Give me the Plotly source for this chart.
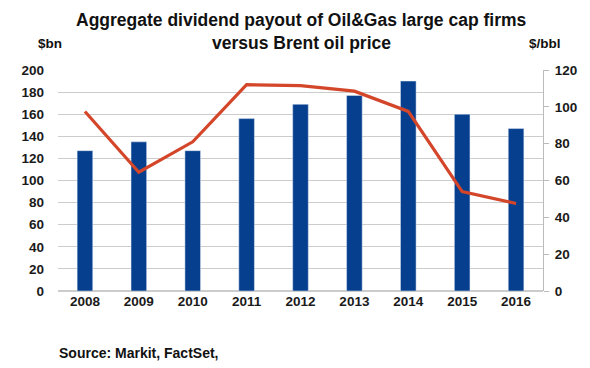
import plotly.graph_objects as go

years = ["2008", "2009", "2010", "2011", "2012", "2013", "2014", "2015", "2016"]
dividends_bn = [127, 135, 127, 156, 169, 177, 190, 160, 147]
brent_usd = [97.5, 64.5, 81, 112, 111.5, 108.5, 97.5, 54, 47.5]

FONT = "Liberation Sans, Arial, sans-serif"
TICK = dict(family=FONT, size=13.5, color="#1a1a1a")

fig = go.Figure()
fig.add_trace(go.Bar(x=years, y=dividends_bn, marker_color="#063f8e",
                     width=0.29, name="Dividends", yaxis="y"))
fig.add_trace(go.Scatter(x=years, y=brent_usd, mode="lines",
                         line=dict(color="#d4462a", width=3.2), name="Brent", yaxis="y2"))

def note(text, x, y, size, anchor="center"):
    return dict(text="<b>" + text + "</b>", xref="paper", yref="paper", x=x, y=y,
                xanchor=anchor, yanchor="middle", showarrow=False,
                font=dict(family=FONT, size=size, color="#111111"))

fig.update_layout(
    width=590, height=368,
    margin=dict(l=58, r=47, t=70, b=77),
    plot_bgcolor="white", paper_bgcolor="white",
    showlegend=False,
    font=dict(family=FONT, size=12, color="#000000"),
    xaxis=dict(showgrid=False, showline=False, ticks="", tickfont=TICK,
               tickprefix="<b>", ticksuffix="</b>"),
    yaxis=dict(range=[0, 200], dtick=20, showgrid=True, gridcolor="#cccccc", gridwidth=1,
               zeroline=True, zerolinecolor="#cccccc", showline=False, ticks="",
               ticklabelstandoff=13,
               tickfont=TICK, tickprefix="<b>", ticksuffix="</b>"),
    yaxis2=dict(range=[0, 120], dtick=20, overlaying="y", side="right", showgrid=False,
                zeroline=False, showline=True, linecolor="#bbbbbb", linewidth=1,
                ticks="outside", ticklen=5, tickcolor="#bbbbbb", ticklabelstandoff=3,
                tickfont=TICK, tickprefix="<b>", ticksuffix="</b>"),
    annotations=[
        note("Aggregate dividend payout of Oil&Gas large cap firms", 0.502, 1.226, 17.5),
        note("versus Brent oil price", 0.502, 1.122, 17.5),
        note("$bn", -0.0175, 1.122, 13.5),
        note("$/bbl", 1.005, 1.122, 13.5),
        note("Source: Markit, FactSet,", -0.002, -0.2805, 14, anchor="left"),
    ],
)

fig.write_html("out.html", config={"displayModeBar": False},
               post_script="document.body.style.margin='0';document.body.style.padding='0';")
